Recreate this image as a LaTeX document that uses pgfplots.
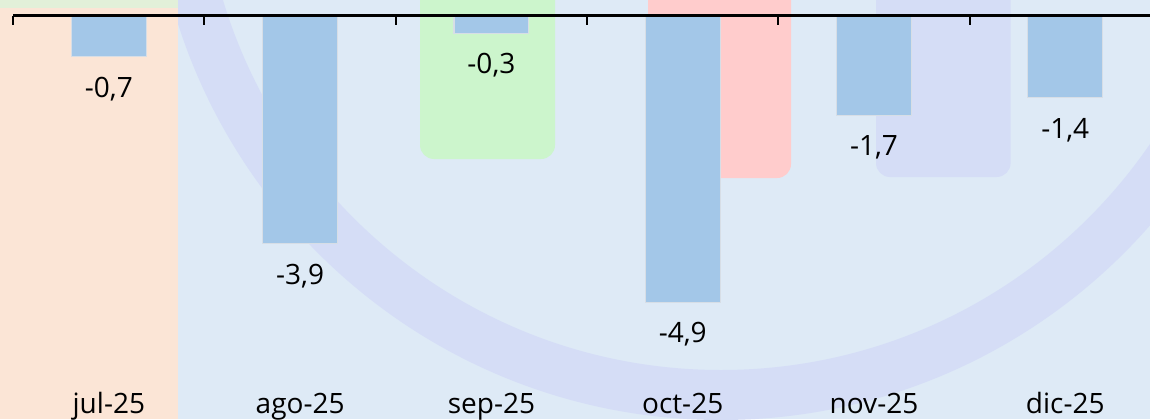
\documentclass[border=0pt]{standalone}
\usepackage{fontspec}
\setmainfont{Open Sans}
\usepackage{pgfplots}
\usepackage{pgfplotstable}
\pgfplotsset{compat=1.18}
\definecolor{bgblue}{RGB}{222,234,246}
\definecolor{salmon}{RGB}{251,229,214}
\definecolor{topgreen}{RGB}{226,240,217}
\definecolor{mint}{RGB}{204,245,204}
\definecolor{rosy}{RGB}{255,204,204}
\definecolor{lav}{RGB}{213,221,246}
\definecolor{barfill}{RGB}{163,199,232}
\definecolor{baredge}{RGB}{215,222,230}
\pgfplotstableread{
x y lab
0 -0.7 -0,7
1 -3.9 -3,9
2 -0.3 -0,3
3 -4.9 -4,9
4 -1.7 -1,7
5 -1.4 -1,4
}\datatab
\begin{document}
\begin{tikzpicture}
\useasboundingbox (0,0) rectangle (575pt,209.5pt);
\begin{scope}
\clip (0,0) rectangle (575pt,209.5pt);
\fill[bgblue] (0,0) rectangle (575pt,209.5pt);
\fill[lav, even odd rule] (360.5pt,284.5pt) circle (285pt) (360.5pt,284.5pt) circle (260pt);
\fill[salmon] (0,0) rectangle (89pt,209.5pt);
\fill[topgreen] (0,205.5pt) rectangle (89pt,209.5pt);
\fill[mint, rounded corners=7pt] (210pt,130pt) rectangle (277.5pt,225pt);
\fill[rosy, rounded corners=7pt] (324pt,120.5pt) rectangle (395.5pt,225pt);
\fill[lav, rounded corners=7pt] (438pt,121pt) rectangle (505.3pt,225pt);
\end{scope}
\begin{axis}[
  at={(0,0)}, anchor=south west,
  scale only axis, width=575pt, height=209.5pt,
  xmin=-0.569, xmax=5.443, ymin=-6.894, ymax=0.268,
  axis line style={draw=none},
  tick style={draw=none}, major tick length=0pt,
  ytick=\empty,
  xtick={0,1,2,3,4,5},
  xticklabels={jul-25,ago-25,sep-25,oct-25,nov-25,dic-25},
  xticklabel style={anchor=base, yshift=3pt, font=\fontsize{14}{16}\selectfont, text=black},
  clip=false,
]
\addplot[ybar, bar width=0.391, bar shift=0pt, draw=baredge, line width=0.6pt,
  fill=barfill,
  point meta=explicit symbolic,
  nodes near coords,
  nodes near coords style={anchor=base, yshift=-20.3pt, font=\fontsize{14}{16}\selectfont, text=black}]
  table[x=x, y=y, meta=lab] {\datatab};
\draw[black, line width=1.5pt] (axis cs:-0.5,0) -- (axis cs:5.443,0);
\pgfplotsinvokeforeach{-0.5,0.5,1.5,2.5,3.5,4.5}{
  \draw[black, line width=1pt] (axis cs:#1,0) -- ++(0pt,-4.5pt);
}
\end{axis}
\end{tikzpicture}
\end{document}
